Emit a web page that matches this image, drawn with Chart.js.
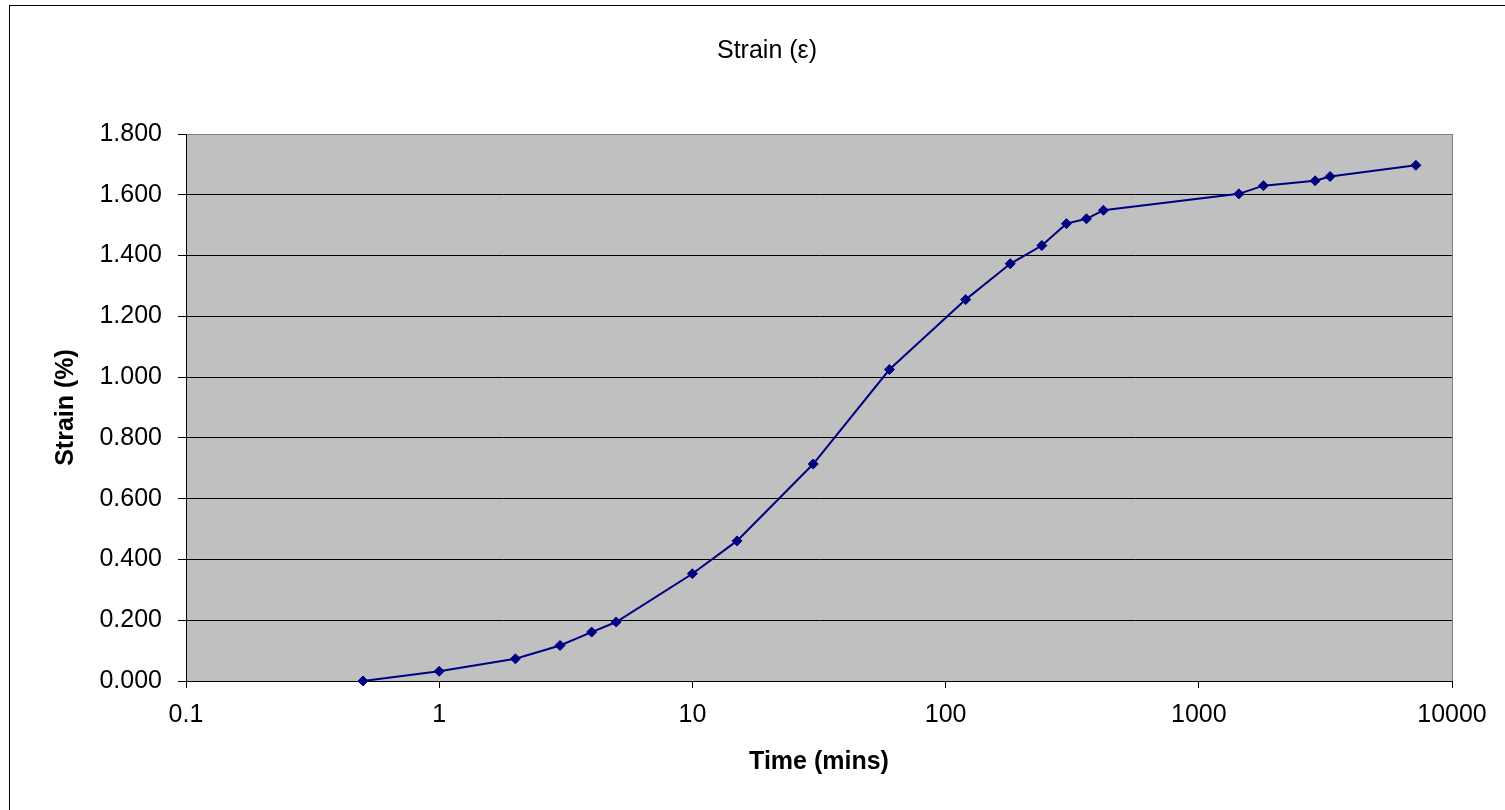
<!DOCTYPE html>
<html>
<head>
<meta charset="utf-8">
<title>Strain (ε)</title>
<script src="https://cdn.jsdelivr.net/npm/chart.js@4/dist/chart.umd.min.js"></script>
<style>
  html, body { margin: 0; padding: 0; background: #fff; }
  canvas { display: block; }
</style>
</head>
<body>
<canvas id="strainChart" width="1505" height="810"></canvas>
<script>
// time in minutes (log axis) and measured strain
const timeMins = [0.5, 1, 2, 3, 4, 5, 10, 15, 30, 60, 120, 180, 240, 300, 360, 420, 1440, 1800, 2880, 3300, 7200];
const strainPct = [0.000, 0.032, 0.073, 0.117, 0.161, 0.194, 0.353, 0.461, 0.714, 1.025, 1.255, 1.373, 1.433, 1.505, 1.521, 1.549, 1.603, 1.630, 1.646, 1.660, 1.697];

const xTickValues = [0.1, 1, 10, 100, 1000, 10000];
const xTickLabels = ['0.1', '1', '10', '100', '1000', '10000'];

const chartTitle = 'Strain (ε)';
const xTitle = 'Time (mins)';
const yTitle = 'Strain (%)';

const FONT = '"Liberation Sans", Arial, sans-serif';

// white page, outer frame, grey plot area and the chart title
const frame = {
    id: 'frame',
    beforeDraw(chart) {
        const { ctx, chartArea: a } = chart;
        ctx.save();
        ctx.fillStyle = '#fff';
        ctx.fillRect(0, 0, chart.width, chart.height);
        ctx.strokeStyle = '#000';
        ctx.lineWidth = 1;
        ctx.strokeRect(9.5, 5.5, chart.width + 20, chart.height + 20);
        ctx.fillStyle = '#c0c0c0';
        ctx.fillRect(a.left, a.top, a.right - a.left, a.bottom - a.top);
        ctx.strokeStyle = '#808080';
        ctx.strokeRect(a.left + 0.5, a.top + 0.5, a.right - a.left, a.bottom - a.top);
        ctx.fillStyle = '#000';
        ctx.font = '25px ' + FONT;
        ctx.textAlign = 'center';
        ctx.textBaseline = 'middle';
        ctx.fillText(chartTitle, 767, 51);
        ctx.restore();
    }
};

const points = timeMins.map((t, i) => ({ x: t, y: strainPct[i] }));

new Chart(document.getElementById('strainChart'), {
    type: 'line',
    data: {
        datasets: [{
            label: 'Strain',
            data: points,
            borderColor: '#000080',
            backgroundColor: '#000080',
            borderWidth: 2,
            pointStyle: 'rectRot',
            pointRadius: 5,
            pointBorderWidth: 1,
            tension: 0,
            clip: false
        }]
    },
    options: {
        responsive: false,
        animation: false,
        devicePixelRatio: 1,
        layout: { padding: { top: 134, right: 53, left: 0, bottom: 0 } },
        plugins: {
            legend: { display: false },
            title: { display: false },
            tooltip: { enabled: false }
        },
        scales: {
            x: {
                type: 'logarithmic',
                min: 0.1,
                max: 10000,
                afterBuildTicks: (scale) => {
                    scale.ticks = xTickValues.map(v => ({ value: v }));
                },
                afterFit: (scale) => { scale.height = 129; },
                ticks: {
                    color: '#000',
                    font: { family: FONT, size: 25 },
                    padding: 12,
                    maxRotation: 0,
                    autoSkip: false,
                    callback: (value, index) => xTickLabels[index]
                },
                grid: {
                    drawOnChartArea: false,
                    drawTicks: true,
                    tickLength: 7,
                    color: '#000'
                },
                border: { display: true, color: '#000', width: 1 },
                title: {
                    display: true,
                    text: xTitle,
                    color: '#000',
                    font: { family: FONT, size: 25, weight: 'bold' },
                    padding: { top: 0, bottom: 33 }
                }
            },
            y: {
                type: 'linear',
                min: 0,
                max: 1.8,
                afterFit: (scale) => { scale.width = 186; },
                ticks: {
                    stepSize: 0.2,
                    color: '#000',
                    font: { family: FONT, size: 25 },
                    padding: 16,
                    callback: (value) => value.toFixed(3)
                },
                grid: {
                    color: (c) => (c.tick && c.tick.value > 1.79 ? '#808080' : '#000'),
                    tickColor: '#000',
                    tickLength: 8,
                    lineWidth: 1
                },
                border: { display: true, color: '#000', width: 1 },
                title: {
                    display: true,
                    text: yTitle,
                    color: '#000',
                    font: { family: FONT, size: 25, weight: 'bold' },
                    padding: { top: 51, bottom: 0 }
                }
            }
        }
    },
    plugins: [frame]
});
</script>
</body>
</html>
